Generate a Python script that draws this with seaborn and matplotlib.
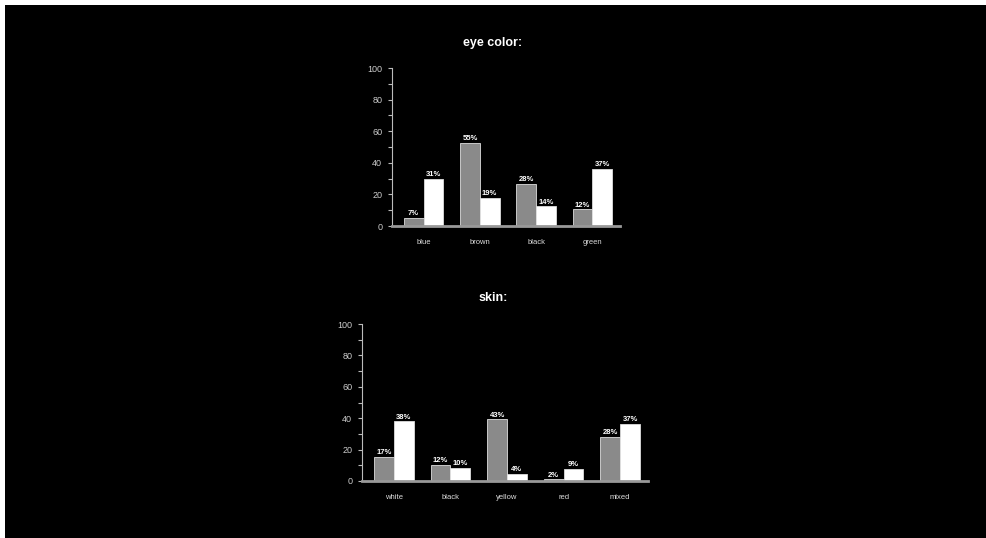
import pandas as pd
import matplotlib.pyplot as plt
import seaborn as sns
from matplotlib.patches import Rectangle

# eye color chart
eyeCats = ['blue', 'brown', 'black', 'green']
eyeGray = [5.3, 52.6, 26.8, 10.5]
eyeWhite = [30.0, 17.9, 12.4, 36.3]
eyeGrayLab = ['7%', '55%', '28%', '12%']
eyeWhiteLab = ['31%', '19%', '14%', '37%']

# skin chart
skinCats = ['white', 'black', 'yellow', 'red', 'mixed']
skinGray = [15.3, 10.5, 39.3, 1.0, 28.0]
skinWhite = [38.0, 8.4, 4.6, 7.7, 36.5]
skinGrayLab = ['17%', '12%', '43%', '2%', '28%']
skinWhiteLab = ['38%', '10%', '4%', '9%', '37%']

groups = ['a', 'b']

sns.set_style('dark')
plt.rcParams['font.family'] = ['Liberation Sans', 'DejaVu Sans']

fig = plt.figure(figsize=(9.87, 5.38), dpi=100, facecolor='white')
# black panel with thin white strip on top and left
fig.add_artist(Rectangle((5/987, 0), 1, 533/538, transform=fig.transFigure,
                         facecolor='black', edgecolor='none', zorder=0))


def draw(ax, cats, gray, white, grayLab, whiteLab):
    df = pd.DataFrame({'cat': cats * 2,
                       'grp': [groups[0]] * len(cats) + [groups[1]] * len(cats),
                       'val': gray + white})
    sns.barplot(data=df, x='cat', y='val', hue='grp', hue_order=groups,
                palette=['#8a8a8a', '#ffffff'], width=0.7, ax=ax,
                edgecolor='#dddddd', linewidth=0.6, legend=False)
    ax.bar_label(ax.containers[0], labels=grayLab, fontsize=5.5, color='white',
                 fontweight='bold', padding=0.5)
    ax.bar_label(ax.containers[1], labels=whiteLab, fontsize=5.5, color='white',
                 fontweight='bold', padding=0.5)
    ax.set_facecolor('none')
    ax.set_ylim(0, 100)
    ax.set_xlim(-0.56, len(cats) - 0.51)
    ax.set_yticks(range(0, 101, 20))
    ax.set_yticks(range(10, 100, 20), minor=True)
    ax.set_xlabel('')
    ax.set_ylabel('')
    ax.grid(False)
    for s in ['top', 'right']:
        ax.spines[s].set_visible(False)
    ax.spines['left'].set_color('#bbbbbb')
    ax.spines['left'].set_linewidth(0.8)
    ax.spines['bottom'].set_color('#999999')
    ax.spines['bottom'].set_linewidth(2)
    ax.tick_params(axis='y', which='both', left=True, color='#bbbbbb',
                   length=3, width=0.8, labelsize=6.5, labelcolor='#cccccc', pad=4)
    ax.tick_params(axis='x', bottom=False, labelsize=5.5, labelcolor='#dddddd', pad=6)


ax1 = fig.add_axes([392/987, 1 - 226/538, 228/987, 158/538])
draw(ax1, eyeCats, eyeGray, eyeWhite, eyeGrayLab, eyeWhiteLab)
ax2 = fig.add_axes([362/987, 1 - 481/538, 286/987, 157/538])
draw(ax2, skinCats, skinGray, skinWhite, skinGrayLab, skinWhiteLab)

fig.text(493/987, 1 - 43/538, 'eye color:', ha='center', va='center',
         color='white', fontsize=9, fontweight='bold')
fig.text(493/987, 1 - 298/538, 'skin:', ha='center', va='center',
         color='white', fontsize=9, fontweight='bold')

fig.savefig('out.png', dpi=100, facecolor=fig.get_facecolor())
